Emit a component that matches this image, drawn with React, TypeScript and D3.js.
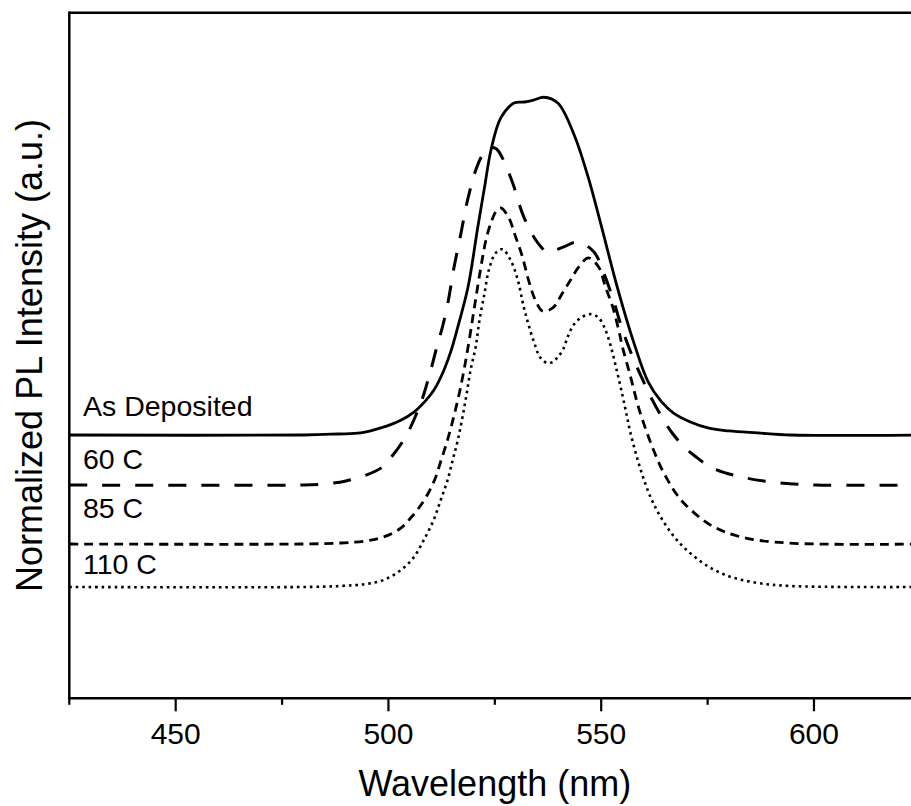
import React from "react";
import * as d3 from "d3";

// ---------- data (wavelength in nm, normalized PL intensity 0..1) ----------
const asDepositedWl = [425, 480, 488, 493.5, 498.2, 502.9, 506, 508.5, 510.7, 512.8, 514.7, 516.3, 518.7, 521, 522.6, 524.1, 526.4, 529.5, 532, 534.2, 536.5, 539.8, 543.6, 546.9, 549.9, 553.9, 557.7, 561, 564, 567, 571.1, 575.1, 580, 586.8, 594.6, 625];
const asDepositedI = [0, 0, 0.003, 0.006, 0.021, 0.044, 0.068, 0.098, 0.133, 0.185, 0.249, 0.32, 0.438, 0.616, 0.735, 0.844, 0.939, 0.983, 0.986, 0.992, 1.0, 0.983, 0.89, 0.765, 0.625, 0.432, 0.272, 0.158, 0.101, 0.065, 0.038, 0.021, 0.012, 0.006, 0, 0];

const c60Wl = [425, 479.4, 485, 490, 494.9, 498.2, 500.5, 504, 507.6, 509.9, 511.6, 512.7, 514.1, 515.3, 517, 518.6, 520.7, 522.4, 524, 525.4, 526.8, 529.2, 531.8, 535.1, 537.4, 539.3, 541.2, 544.5, 548.3, 550.3, 552.7, 555, 557.4, 560, 562, 564.4, 566.5, 569.1, 572, 576.2, 584, 592.2, 600.4, 625];
const c60I = [0, 0, 0.003, 0.012, 0.03, 0.05, 0.08, 0.142, 0.243, 0.338, 0.42, 0.468, 0.548, 0.637, 0.743, 0.844, 0.939, 0.983, 1.0, 0.995, 0.968, 0.894, 0.794, 0.717, 0.69, 0.696, 0.705, 0.72, 0.69, 0.637, 0.554, 0.459, 0.379, 0.305, 0.252, 0.198, 0.157, 0.118, 0.086, 0.05, 0.021, 0.006, 0, 0];

const c85Wl = [425, 479.4, 488.8, 494.7, 498.9, 502.9, 505.2, 507.6, 509.5, 511.1, 512.3, 513.5, 514.6, 515.7, 516.8, 517.9, 519, 520, 521, 522, 523, 524.2, 525.3, 526.4, 528.2, 529.9, 531.5, 532.9, 534.5, 536.2, 538.6, 540.9, 542.8, 544.7, 547, 549.4, 551, 552.7, 554.1, 555, 556.9, 558.8, 561.2, 562.6, 564, 565.6, 567.5, 569.9, 575.7, 582.8, 593.8, 625];
const c85I = [0, 0, 0.003, 0.009, 0.021, 0.047, 0.077, 0.115, 0.154, 0.198, 0.245, 0.292, 0.34, 0.395, 0.455, 0.525, 0.605, 0.685, 0.765, 0.84, 0.905, 0.955, 0.985, 0.995, 0.968, 0.909, 0.85, 0.782, 0.723, 0.69, 0.699, 0.743, 0.782, 0.82, 0.847, 0.82, 0.761, 0.702, 0.634, 0.583, 0.495, 0.403, 0.314, 0.269, 0.228, 0.19, 0.151, 0.115, 0.056, 0.021, 0.003, 0];

const c110Wl = [425, 479.4, 488.8, 494.7, 498.9, 502.9, 506, 508.3, 510.6, 512.3, 513.9, 515.1, 516.3, 517.4, 518.4, 519.3, 520.5, 521.4, 522.6, 523.6, 525.2, 526.8, 528.7, 530.4, 531.8, 533.5, 534.6, 535.3, 536.2, 537.4, 538.6, 539.8, 541, 542.1, 543.5, 545.2, 547.5, 549.4, 551, 552.2, 553.4, 554.6, 555.8, 556.9, 559.3, 561.6, 564, 567, 570.3, 575, 580.4, 586.8, 594.5, 625];
const c110I = [0, 0, 0.003, 0.009, 0.021, 0.05, 0.089, 0.139, 0.198, 0.258, 0.317, 0.376, 0.435, 0.503, 0.574, 0.643, 0.711, 0.791, 0.871, 0.939, 0.989, 1.0, 0.968, 0.909, 0.829, 0.752, 0.711, 0.687, 0.672, 0.663, 0.666, 0.681, 0.702, 0.74, 0.776, 0.797, 0.808, 0.797, 0.761, 0.715, 0.655, 0.59, 0.52, 0.455, 0.346, 0.266, 0.207, 0.151, 0.107, 0.062, 0.03, 0.012, 0.003, 0];

const seriesNames = ["As Deposited", "60 C", "85 C", "110 C"];
const seriesOffsets = [0.7796, 0.6315, 0.4568, 0.3295];
const xTicks = [425, 450, 475, 500, 525, 550, 575, 600];
const xTickLabels = ["450", "500", "550", "600"];

// ---------- layout ----------
const W = 911;
const H = 806;
const left = 69.3;
const top = 12.7;
const bottom = 698.3;
const FONT = "'Liberation Sans', Arial, Helvetica, sans-serif";

const styles = [
  { dash: "none", width: 2.8 },
  { dash: "18 15", width: 3 },
  { dash: "9 6", width: 2.8 },
  { dash: "2.6 3.9", width: 2.6 },
];
const labelPos = [
  { x: 83, y: 416 },
  { x: 83, y: 469 },
  { x: 83, y: 518 },
  { x: 83, y: 574 },
];

export default function App() {
  const x = d3.scaleLinear().domain([425, 625]).range([left, left + 200 * 4.2553]);
  const y = d3.scaleLinear().domain([0, 2.03]).range([bottom, top]);

  const series = [
    { wl: asDepositedWl, v: asDepositedI },
    { wl: c60Wl, v: c60I },
    { wl: c85Wl, v: c85I },
    { wl: c110Wl, v: c110I },
  ];

  const line = d3
    .line<[number, number]>()
    .x((d) => x(d[0]))
    .y((d) => y(d[1]))
    .curve(d3.curveCatmullRom.alpha(0.5));

  return (
    <svg
      width={W}
      height={H}
      style={{ position: "absolute", left: 0, top: 0, background: "#fff" }}
      fontFamily={FONT}
    >
      <rect x={0} y={0} width={W} height={H} fill="#fff" />
      {series.map((s, i) => {
        const pts: [number, number][] = s.wl.map((w, j) => [w, s.v[j] + seriesOffsets[i]]);
        return (
          <path
            key={i}
            d={line(pts) || ""}
            fill="none"
            stroke="#000"
            strokeWidth={styles[i].width}
            strokeDasharray={styles[i].dash}
            strokeLinejoin="round"
          />
        );
      })}
      {seriesNames.map((n, i) => (
        <text key={n} x={labelPos[i].x} y={labelPos[i].y} fontSize={28.5} fill="#000">
          {n}
        </text>
      ))}
      {/* frame */}
      <line x1={left} x2={W} y1={top} y2={top} stroke="#000" strokeWidth={2.6} />
      <line x1={left} x2={left} y1={top - 1.3} y2={bottom + 1.3} stroke="#000" strokeWidth={2.5} />
      <line x1={left - 1.2} x2={W} y1={bottom} y2={bottom} stroke="#000" strokeWidth={2.6} />
      {xTicks.map((t) => {
        const major = t % 50 === 0;
        return (
          <line
            key={t}
            x1={x(t)}
            x2={x(t)}
            y1={bottom}
            y2={bottom + (major ? 13 : 6.5)}
            stroke="#000"
            strokeWidth={2.2}
          />
        );
      })}
      {xTickLabels.map((l) => (
        <text key={l} x={x(+l)} y={743.5} fontSize={30} textAnchor="middle" fill="#000">
          {l}
        </text>
      ))}
      <text x={(left + x(625)) / 2} y={796} fontSize={36} textAnchor="middle" fill="#000">
        Wavelength (nm)
      </text>
      <text
        transform={`translate(42, ${(top + bottom) / 2}) rotate(-90)`}
        fontSize={36}
        textAnchor="middle"
        fill="#000"
      >
        Normalized PL Intensity (a.u.)
      </text>
    </svg>
  );
}
